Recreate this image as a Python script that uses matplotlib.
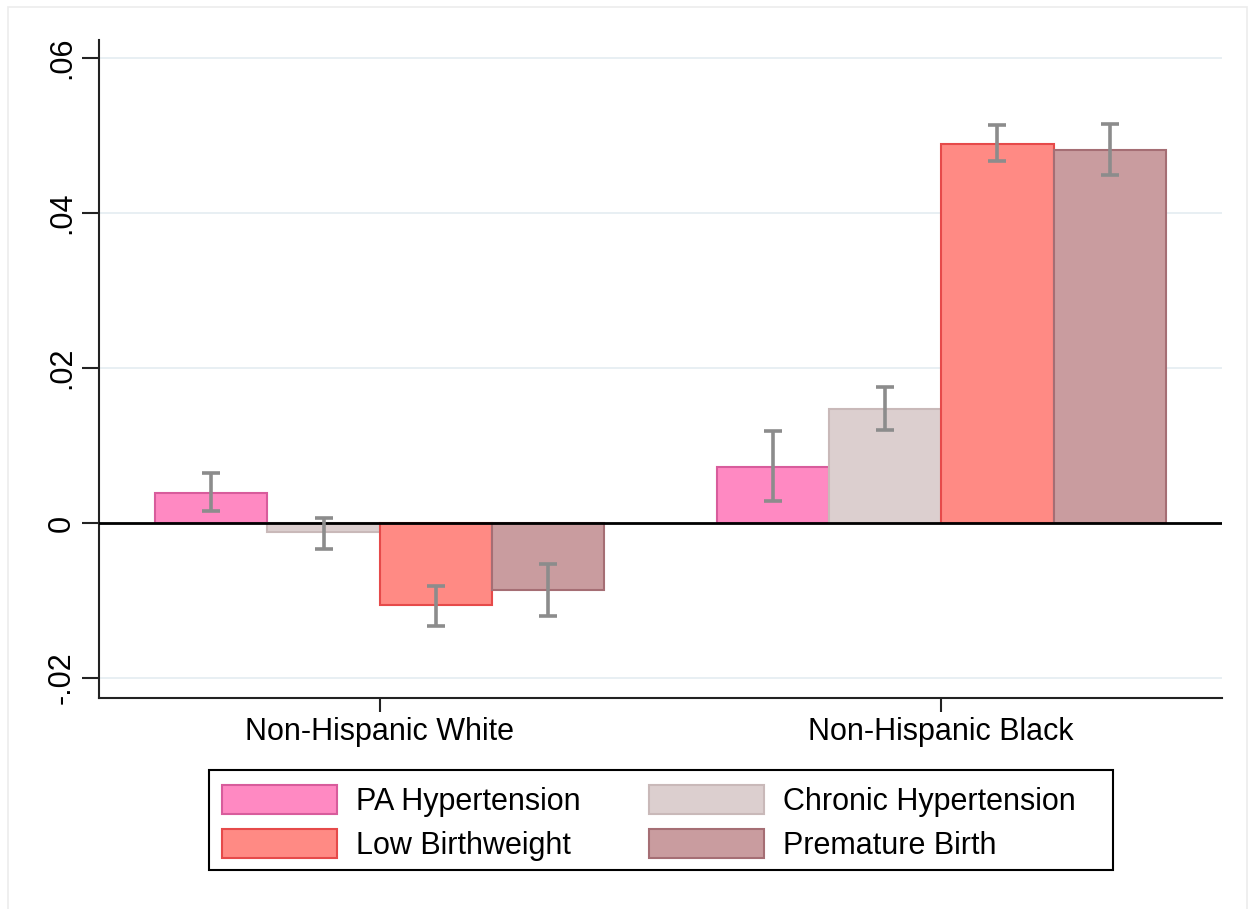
import matplotlib
matplotlib.use("Agg")
import matplotlib.pyplot as plt
import numpy as np
from matplotlib.patches import Rectangle

plt.rcParams["font.family"] = ["Liberation Sans", "DejaVu Sans"]

groups = ["Non-Hispanic White", "Non-Hispanic Black"]
series = ["PA Hypertension", "Chronic Hypertension", "Low Birthweight", "Premature Birth"]

# point estimates per series, one value per group
pa_hypertension = [0.0039, 0.0072]
chronic_hypertension = [-0.0012, 0.0147]
low_birthweight = [-0.0106, 0.0489]
premature_birth = [-0.0086, 0.0481]

# confidence interval bounds (low, high) per series
pa_ci_low = [0.0015, 0.0028]
pa_ci_high = [0.0064, 0.0118]
chronic_ci_low = [-0.0033, 0.0120]
chronic_ci_high = [0.0007, 0.0176]
lbw_ci_low = [-0.0133, 0.0467]
lbw_ci_high = [-0.0081, 0.0513]
premature_ci_low = [-0.0120, 0.0449]
premature_ci_high = [-0.0053, 0.0515]

yticks = [-0.02, 0.0, 0.02, 0.04, 0.06]
ytick_labels = ["-.02", "0", ".02", ".04", ".06"]

values = [pa_hypertension, chronic_hypertension, low_birthweight, premature_birth]
ci_lows = [pa_ci_low, chronic_ci_low, lbw_ci_low, premature_ci_low]
ci_highs = [pa_ci_high, chronic_ci_high, lbw_ci_high, premature_ci_high]

fills = ["#FF89C2", "#DCCFCF", "#FF8A84", "#C99C9F"]
edges = ["#D85C9C", "#C9B9B9", "#E64A4A", "#A56E74"]

W, H = 1250, 909
fig = plt.figure(figsize=(W / 100, H / 100), dpi=100)
fig.patch.set_facecolor("white")
ax = fig.add_axes([99 / W, 1 - 698 / H, (1222 - 99) / W, (698 - 40) / H])

# faint outer frame
fig.add_artist(Rectangle((8 / W, -0.01), (1247 - 8) / W, 1 - 7 / H + 0.01,
                         transform=fig.transFigure, fill=False,
                         edgecolor="#ececec", linewidth=1.2))

x = np.arange(len(groups))
width = 0.2
offsets = [-0.3, -0.1, 0.1, 0.3]

for gy in yticks:
    ax.axhline(gy, color="#e4ecf1", linewidth=1.2, zorder=0)

for vals, lo, hi, off, fc, ec, name in zip(values, ci_lows, ci_highs, offsets, fills, edges, series):
    ax.bar(x + off, vals, width=width, color=fc, edgecolor=ec, linewidth=1.5,
           label=name, zorder=2)
    vals_a = np.array(vals)
    yerr = np.vstack([vals_a - np.array(lo), np.array(hi) - vals_a])
    ax.errorbar(x + off, vals_a, yerr=yerr, fmt="none", ecolor="#8c8c8c",
                elinewidth=2.6, capsize=6.5, capthick=2.6, zorder=4)

ax.axhline(0, color="black", linewidth=2, zorder=3)

ax.set_xlim(-0.5, 1.5)
ax.set_ylim(-0.02258, 0.0623)
ax.set_xticks(x)
ax.set_xticklabels(groups, fontsize=22)
ax.set_yticks(yticks)
ax.set_yticklabels(ytick_labels, fontsize=22, rotation=90, va="center")

for side in ["top", "right"]:
    ax.spines[side].set_visible(False)
for side in ["left", "bottom"]:
    ax.spines[side].set_linewidth(1.5)
    ax.spines[side].set_color("#222222")
ax.tick_params(axis="y", length=12, width=1.5, color="#222222", pad=4)
ax.tick_params(axis="x", length=10, width=1.5, color="#222222", pad=4)

handles, labels = ax.get_legend_handles_labels()
# order rows: PA / Chronic, Low Birthweight / Premature
order = [0, 2, 1, 3]
leg = fig.legend([handles[i] for i in order], [labels[i] for i in order],
                 loc="upper left", bbox_to_anchor=(222 / W, 1 - 785 / H),
                 ncol=2, fontsize=22, frameon=False,
                 handlelength=3.75, handleheight=1.1,
                 handletextpad=0.62, columnspacing=2.26, labelspacing=0.38,
                 borderpad=0, borderaxespad=0)

# legend border box
fig.add_artist(Rectangle((209 / W, 1 - 870 / H), (1113 - 209) / W, 100 / H,
                         transform=fig.transFigure, fill=False,
                         edgecolor="black", linewidth=1.5, zorder=5))

fig.savefig("out.png", dpi=100, facecolor="white")
